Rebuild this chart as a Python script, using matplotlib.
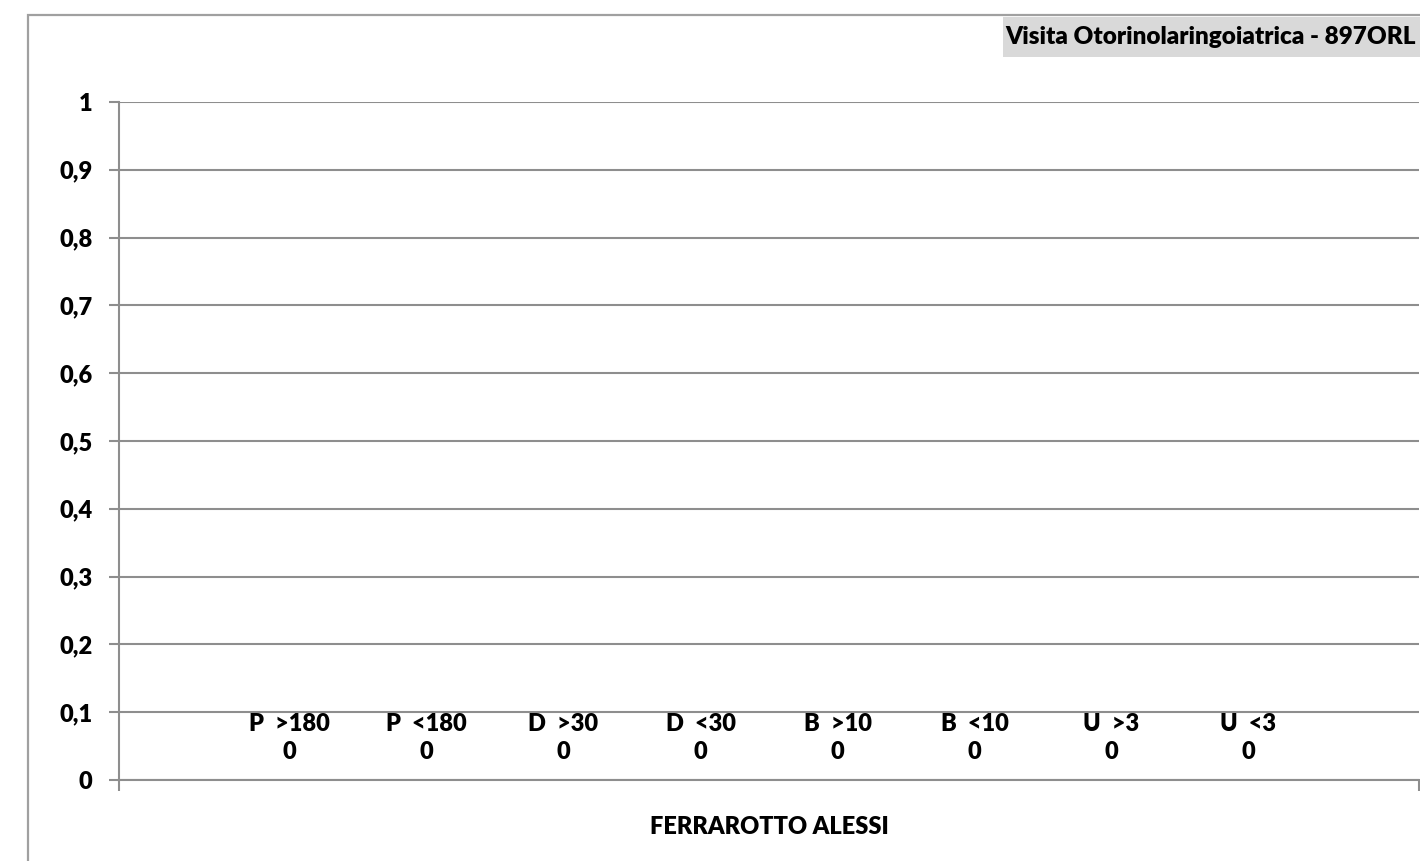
import matplotlib.pyplot as plt
from matplotlib.patches import Rectangle
from matplotlib.ticker import FuncFormatter

# dati del grafico
categoria = 'FERRAROTTO ALESSI'
serie = ['P  >180', 'P  <180', 'D  >30', 'D  <30', 'B  >10', 'B  <10', 'U  >3', 'U  <3']
valori = [0, 0, 0, 0, 0, 0, 0, 0]
titolo = 'Visita Otorinolaringoiatrica - 897ORL'

plt.rcParams['font.family'] = ['Lato', 'DejaVu Sans']
plt.rcParams['font.weight'] = 'heavy'

W, H = 1420, 861
fig = plt.figure(figsize=(W / 100, H / 100), dpi=100)
ax = fig.add_axes([119 / W, 1 - 780 / H, 1300 / W, 678 / H])

grigio = '#8e8e8e'
fs = 17

# cornice esterna
fig.patches.append(Rectangle((28 / W, -0.1), 1.2, 1 - 15 / H + 0.1, fill=False,
                             edgecolor='#a0a0a0', lw=1.6, transform=fig.transFigure))

# titolo con sfondo grigio
fig.patches.append(Rectangle((1003 / W, 1 - 57 / H), 0.5, 40 / H, facecolor='#d9d9d9',
                             edgecolor='none', transform=fig.transFigure, zorder=2))
fig.text(1416 / W, 1 - 37 / H, titolo, ha='right', va='center', fontsize=17.5,
         fontweight='heavy', zorder=3)

# barre (tutte a zero) con etichette
n = len(serie)
passo = 137 / 1300
pos = [(i - (n - 1) / 2) * passo for i in range(n)]
ax.bar(pos, valori, width=passo * 0.8, color='#4f81bd')
for x, nome, v in zip(pos, serie, valori):
    ax.annotate(f'{nome}\n{v}', (x, v), xytext=(0, 12), textcoords='offset points',
                ha='center', va='bottom', fontsize=fs, fontweight='heavy',
                linespacing=1.35)

ax.set_xlim(-0.5, 0.5)
ax.set_ylim(0, 1)
ax.set_yticks([i / 10 for i in range(11)])
ax.yaxis.set_major_formatter(FuncFormatter(lambda v, p: f'{v:g}'.replace('.', ',')))
ax.grid(axis='y', color=grigio, lw=1.5)
ax.set_axisbelow(True)

ax.set_xticks([-0.5, 0.5])
ax.set_xticklabels(['', ''])
ax.set_xticks([0], [categoria], minor=True)
ax.tick_params(axis='x', which='minor', length=0, pad=26, labelsize=fs)
ax.tick_params(axis='x', which='major', length=8, width=1.5, color=grigio, direction='out')
ax.tick_params(axis='y', length=7, width=1.5, color=grigio, pad=12, labelsize=fs)

for s in ['top', 'right']:
    ax.spines[s].set_visible(False)
for s in ['left', 'bottom']:
    ax.spines[s].set_color(grigio)
    ax.spines[s].set_linewidth(1.5)
ax.spines['bottom'].set_zorder(3)

fig.savefig('out.png', dpi=100)
